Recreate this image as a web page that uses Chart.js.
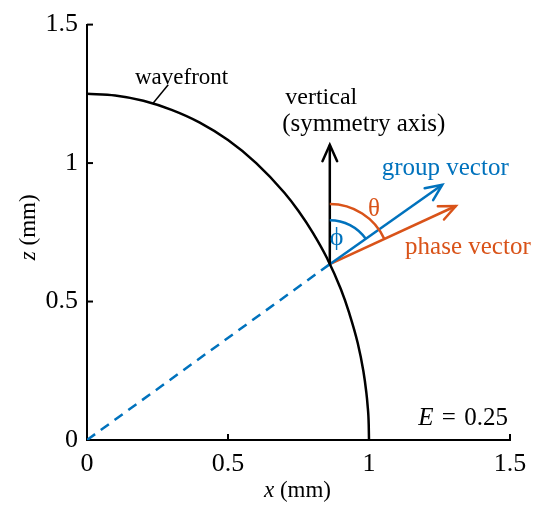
<!DOCTYPE html>
<html lang="en">
<head>
  <meta charset="UTF-8">
  <title>Wavefront</title>
  <script src="https://cdn.jsdelivr.net/npm/chart.js"></script>
  <style>
    body { margin: 0; background: #fff; }
  </style>
</head>
<body>
  <canvas id="myChart" width="536" height="510"></canvas>
  <script>
    // values, x and z in mm
    const wavefrontX = [0, 0.1, 0.2, 0.3, 0.4, 0.5, 0.6, 0.7, 0.75, 0.8, 0.85, 0.9, 0.93, 0.96, 0.98, 0.99, 0.995, 0.999, 1.0];
    const wavefrontZ = [1.25, 1.244, 1.225, 1.192, 1.146, 1.083, 1.0, 0.893, 0.827, 0.75, 0.659, 0.545, 0.458, 0.35, 0.249, 0.176, 0.125, 0.056, 0];
    const rayX = [0, 0.861];
    const rayZ = [0, 0.635];
    const verticalX = [0.861, 0.861];
    const verticalZ = [0.635, 1.066];
    const groupX = [0.861, 1.26];
    const groupZ = [0.635, 0.922];
    const phaseX = [0.861, 1.308];
    const phaseZ = [0.635, 0.845];
    const leaderX = [0.235, 0.288];
    const leaderZ = [1.217, 1.283];
    const tickValues = [0, 0.5, 1, 1.5];
    const eValue = 0.25;

    const BLUE = '#0072BD';
    const ORANGE = '#D95319';
    const SERIF = '"Liberation Serif", "Times New Roman", serif';

    const pts = (xs, zs) => xs.map((x, i) => ({ x: x, y: zs[i] }));

    function lineSet(data, color, width, extra) {
      return Object.assign({
        data: data,
        borderColor: color,
        borderWidth: width,
        pointRadius: 0,
        fill: false,
        showLine: true,
        tension: 0
      }, extra || {});
    }

    // text labels placed in data coordinates
    const notes = [
      { runs: [['wavefront', '']], x: 0.17, z: 1.284, align: 'left', color: '#000', size: 23 },
      { runs: [['vertical', '']], x: 0.703, z: 1.213, align: 'left', color: '#000', size: 24 },
      { runs: [['(symmetry axis)', '']], x: 0.692, z: 1.117, align: 'left', color: '#000', size: 25 },
      { runs: [['group vector', '']], x: 1.045, z: 0.957, align: 'left', color: BLUE, size: 25 },
      { runs: [['phase vector', '']], x: 1.128, z: 0.670, align: 'left', color: ORANGE, size: 25 },
      { runs: [['θ', '']], x: 1.018, z: 0.808, align: 'center', color: ORANGE, size: 25 },
      { runs: [['ϕ', '']], x: 0.885, z: 0.705, align: 'center', color: BLUE, size: 26 },
      { runs: [['E', 'italic '], ['\u2004=\u2004' + eValue, '']], x: 1.493, z: 0.053, align: 'right', color: '#000', size: 25 }
    ];

    function drawRuns(ctx, runs, x, y, align, size) {
      let total = 0;
      runs.forEach(r => { ctx.font = r[1] + size + 'px ' + SERIF; total += ctx.measureText(r[0]).width; });
      let cx = align === 'left' ? x : align === 'right' ? x - total : x - total / 2;
      ctx.textAlign = 'left';
      ctx.textBaseline = 'alphabetic';
      runs.forEach(r => {
        ctx.font = r[1] + size + 'px ' + SERIF;
        ctx.fillText(r[0], cx, y);
        cx += ctx.measureText(r[0]).width;
      });
    }

    function arrowHead(ctx, data, sx, sy, color) {
      const n = data.length;
      const x1 = sx.getPixelForValue(data[n - 2].x), y1 = sy.getPixelForValue(data[n - 2].y);
      const x2 = sx.getPixelForValue(data[n - 1].x), y2 = sy.getPixelForValue(data[n - 1].y);
      const a = Math.atan2(y2 - y1, x2 - x1);
      const len = 18, spread = 0.42;
      ctx.save();
      ctx.strokeStyle = color;
      ctx.lineWidth = 2.5;
      ctx.lineCap = 'round';
      ctx.beginPath();
      ctx.moveTo(x2 - len * Math.cos(a - spread), y2 - len * Math.sin(a - spread));
      ctx.lineTo(x2, y2);
      ctx.lineTo(x2 - len * Math.cos(a + spread), y2 - len * Math.sin(a + spread));
      ctx.stroke();
      ctx.restore();
    }

    function angleArc(ctx, sx, sy, tip, radius, color) {
      const cx = sx.getPixelForValue(verticalX[0]), cy = sy.getPixelForValue(verticalZ[0]);
      const tx = sx.getPixelForValue(tip.x), ty = sy.getPixelForValue(tip.y);
      const r = sx.getPixelForValue(verticalX[0] + radius) - cx;
      ctx.save();
      ctx.strokeStyle = color;
      ctx.lineWidth = 2.5;
      ctx.beginPath();
      ctx.arc(cx, cy, r, -Math.PI / 2, Math.atan2(ty - cy, tx - cx), false);
      ctx.stroke();
      ctx.restore();
    }

    const decorations = {
      id: 'decorations',
      beforeDatasetsDraw(chart) {
        const { ctx, chartArea, scales: { x: sx, y: sy } } = chart;
        ctx.save();
        ctx.strokeStyle = '#000';
        ctx.lineWidth = 2;
        // inward tick marks
        tickValues.forEach(v => {
          const px = sx.getPixelForValue(v);
          ctx.beginPath();
          ctx.moveTo(px, chartArea.bottom);
          ctx.lineTo(px, chartArea.bottom - 6);
          ctx.stroke();
          const py = sy.getPixelForValue(v);
          ctx.beginPath();
          ctx.moveTo(chartArea.left, py);
          ctx.lineTo(chartArea.left + 6, py);
          ctx.stroke();
        });
        ctx.restore();
      },
      afterDatasetsDraw(chart) {
        const { ctx, chartArea, scales: { x: sx, y: sy } } = chart;
        const ds = chart.data.datasets;
        angleArc(ctx, sx, sy, ds[4].data[1], 0.213, ORANGE);
        angleArc(ctx, sx, sy, ds[3].data[1], 0.156, BLUE);
        arrowHead(ctx, ds[2].data, sx, sy, '#000');
        arrowHead(ctx, ds[3].data, sx, sy, BLUE);
        arrowHead(ctx, ds[4].data, sx, sy, ORANGE);

        ctx.save();
        notes.forEach(n => {
          ctx.fillStyle = n.color;
          drawRuns(ctx, n.runs, sx.getPixelForValue(n.x), sy.getPixelForValue(n.z), n.align, n.size);
        });
        // axis titles
        ctx.fillStyle = '#000';
        drawRuns(ctx, [['x', 'italic '], [' (mm)', '']], (chartArea.left + chartArea.right) / 2 - 1, chartArea.bottom + 57, 'center', 23);
        ctx.translate(chartArea.left - 52, (chartArea.top + chartArea.bottom) / 2 - 5);
        ctx.rotate(-Math.PI / 2);
        drawRuns(ctx, [['z', 'italic '], [' (mm)', '']], 0, 0, 'center', 23);
        ctx.restore();
      }
    };

    const tickOpts = {
      color: '#000',
      padding: 9,
      font: { family: SERIF, size: 26 },
      callback: v => String(v)
    };

    const ctx = document.getElementById('myChart').getContext('2d');
    const myChart = new Chart(ctx, {
      type: 'scatter',
      data: {
        datasets: [
          lineSet(pts(wavefrontX, wavefrontZ), '#000', 2.5, { cubicInterpolationMode: 'monotone' }),
          lineSet(pts(rayX, rayZ), BLUE, 2.5, { borderDash: [10, 7] }),
          lineSet(pts(verticalX, verticalZ), '#000', 2.5),
          lineSet(pts(groupX, groupZ), BLUE, 2.5),
          lineSet(pts(phaseX, phaseZ), ORANGE, 2.5),
          lineSet(pts(leaderX, leaderZ), '#000', 1.5)
        ]
      },
      options: {
        responsive: false,
        animation: false,
        events: [],
        layout: { padding: { left: 0, top: 17, right: 26, bottom: 0 } },
        plugins: {
          legend: { display: false },
          tooltip: { enabled: false }
        },
        scales: {
          x: {
            type: 'linear',
            min: 0,
            max: 1.5,
            afterFit: s => { s.height = 70; },
            afterBuildTicks: s => { s.ticks = tickValues.map(v => ({ value: v })); },
            grid: { display: false, drawTicks: false },
            border: { display: true, color: '#000', width: 2 },
            ticks: tickOpts
          },
          y: {
            type: 'linear',
            min: 0,
            max: 1.5,
            afterFit: s => { s.width = 87; },
            afterBuildTicks: s => { s.ticks = tickValues.map(v => ({ value: v })); },
            grid: { display: false, drawTicks: false },
            border: { display: true, color: '#000', width: 2 },
            ticks: tickOpts
          }
        }
      },
      plugins: [decorations]
    });
  </script>
</body>
</html>
